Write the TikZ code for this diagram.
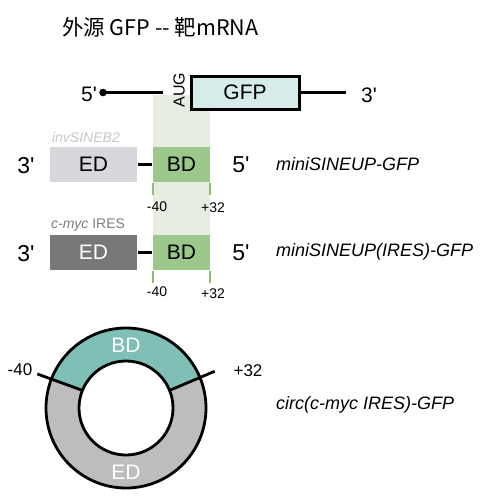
\documentclass[tikz,border=0pt]{standalone}
\usepackage{fontspec}
\setmainfont{Liberation Sans}[Ligatures=TeXOff]
\newfontfamily\cjkfont{Noto Sans CJK SC}[Ligatures=TeXOff]
\usetikzlibrary{positioning}
\definecolor{gfpcyan}{HTML}{D5ECEB}
\definecolor{bandgreen}{HTML}{E7EDE1}
\definecolor{edlight}{HTML}{D8D8DC}
\definecolor{eddark}{HTML}{767779}
\definecolor{bdgreen}{HTML}{9DC88B}
\definecolor{tickgreen}{HTML}{8CBE78}
\definecolor{ringteal}{HTML}{7FBFB6}
\definecolor{ringgrey}{HTML}{BDBDBF}
\tikzset{
	big/.style={inner sep=0pt,font=\fontsize{21}{25}\selectfont},
	mid/.style={inner sep=0pt,font=\fontsize{18}{22}\selectfont\itshape},
	small/.style={inner sep=0pt,font=\fontsize{14}{17}\selectfont},
	edbox/.style={big,minimum width=87pt,minimum height=35pt},
	bdbox/.style={big,fill=bdgreen,minimum width=57pt,minimum height=35pt},
	tick/.style={color=tickgreen,line width=2.4pt},
}
\begin{document}
\begin{tikzpicture}[x=1pt,y=-1pt,line width=2.2pt]
		\useasboundingbox (0,0) rectangle (482,501);
		\fill[color=white] (0,0) rectangle (482,501);
		% title
		\node[anchor=west,inner sep=0pt] (title) at (61,27) {\fontsize{21.5}{26}\selectfont\cjkfont 外源 GFP -- 靶mRNA};
		% band behind the binding domains
		\fill[color=bandgreen] (153,95) rectangle (210,236);
		% target mRNA
		\node[big,draw,fill=gfpcyan,line width=3pt,minimum width=108pt,minimum height=33pt] (gfp) at (245,92.5) {GFP};
		\node[inner sep=0pt,rotate=90,font=\fontsize{16}{19}\selectfont] (aug) at (179,90) {AUG};
		\node[big] (five) at (89,94) {5'};
		\coordinate (cap) at (103,92.5);
		\coordinate (start) at (163,92.5);
		\coordinate (tail) at (346,92.5);
		\node[big] (three) at (369,95) {3'};
		\fill (cap) circle[radius=3.8];
		\draw (cap) -- (start);
		\draw (gfp) -- (tail);
		% miniSINEUP-GFP
		\node[small,anchor=west,color=black!22,font=\fontsize{14}{17}\selectfont\itshape] (inv) at (51,137) {invSINEB2};
		\node[edbox,fill=edlight] (ed1) at (93.5,164.5) {ED};
		\node[bdbox] (bd1) at (181.5,164.5) {BD};
		\draw[line width=2.8pt] (ed1) -- (bd1);
		\draw[tick] ([xshift=1.2pt]bd1.south west) -- ++(0,12);
		\draw[tick] ([xshift=-1.2pt]bd1.south east) -- ++(0,12);
		\node[small] (m40a) at (157,207) {-40};
		\node[small] (p32a) at (213,208) {+32};
		\node[big,font=\fontsize{23}{27}\selectfont] (threea) at (26,166) {3'};
		\node[big,font=\fontsize{23}{27}\selectfont] (fivea) at (241,165) {5'};
		\node[mid,anchor=west] (lab1) at (275,164) {miniSINEUP-GFP};
		% miniSINEUP(IRES)-GFP
		\node[small,anchor=west,color=black!50] (ires) at (50,225) {\textit{c-myc} IRES};
		\node[edbox,fill=eddark,text=white] (ed2) at (93.5,252.5) {ED};
		\node[bdbox] (bd2) at (181.5,252.5) {BD};
		\draw[line width=2.8pt] (ed2) -- (bd2);
		\draw[tick] ([xshift=1.2pt]bd2.south west) -- ++(0,12);
		\draw[tick] ([xshift=-1.2pt]bd2.south east) -- ++(0,12);
		\node[small] (m40b) at (157,292) {-40};
		\node[small] (p32b) at (213,294) {+32};
		\node[big,font=\fontsize{23}{27}\selectfont] (threeb) at (26,254) {3'};
		\node[big,font=\fontsize{23}{27}\selectfont] (fiveb) at (241,253) {5'};
		\node[mid,anchor=west] (lab2) at (275,252) {miniSINEUP(IRES)-GFP};
		% circular form
		\begin{scope}[shift={(126,408)}]
			\fill[color=ringgrey,even odd rule] (0,0) circle[radius=80] (0,0) circle[radius=47];
			\fill[color=ringteal] (-158:80) arc[start angle=-158,end angle=-22,radius=80]
				-- (-22:47) arc[start angle=-22,end angle=-158,radius=47] -- cycle;
			\draw[line width=2.8pt] (0,0) circle[radius=80];
			\draw[line width=2.8pt] (0,0) circle[radius=47];
			\draw[line width=2.8pt] (-158:47) -- (-159:95);
			\draw[line width=2.8pt] (-22:47) -- (-22.5:96);
			\node[big,text=white] (ringbd) at (0,-63) {BD};
			\node[big,text=white] (ringed) at (0,64) {ED};
		\end{scope}
		\node[small,font=\fontsize{17}{20}\selectfont] (m40c) at (20,370) {-40};
		\node[small,font=\fontsize{17}{20}\selectfont] (p32c) at (248,371) {+32};
		\node[mid,anchor=west] (lab3) at (275,405) {circ(c-myc IRES)-GFP};
	\end{tikzpicture}
\end{document}
